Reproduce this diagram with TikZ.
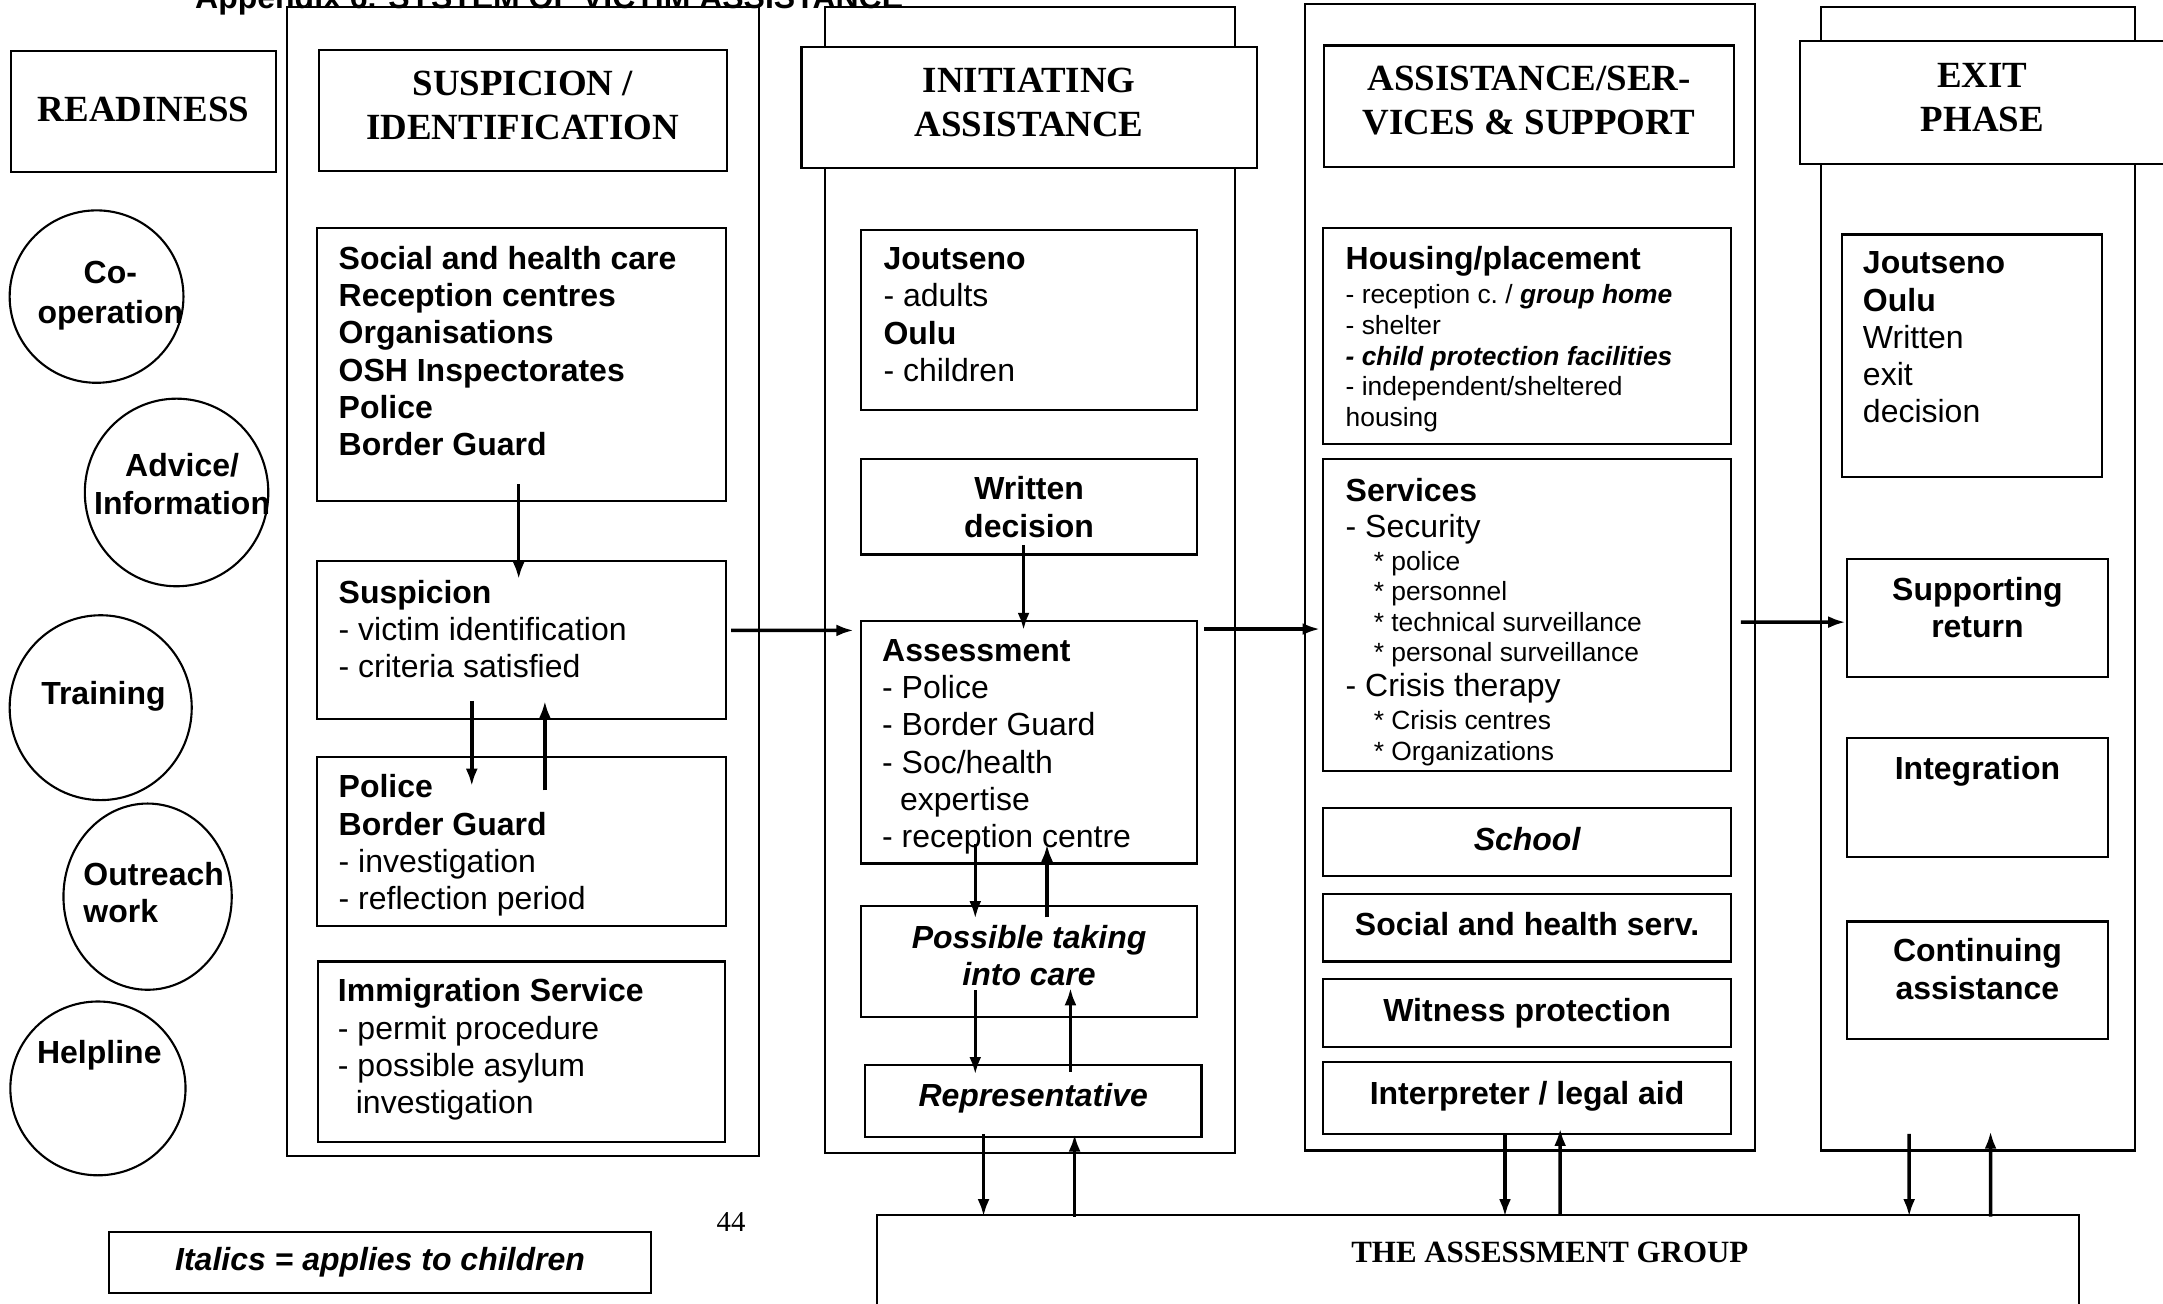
\documentclass[tikz,border=0pt]{standalone}
\usepackage{fontspec}
\setmainfont{Liberation Sans}
\newfontfamily\timesfont{Liberation Serif}
\usetikzlibrary{arrows.meta, positioning, shapes.geometric}
\newlength{\unitpx}
\setlength{\unitpx}{0.013795cm}
\newcommand{\bodyfont}{\fontsize{9.1}{10.6}\selectfont}
\newcommand{\smallfont}{\fontsize{7.5}{8.7}\selectfont}
\newcommand{\headfont}{\timesfont\bfseries\fontsize{10.5}{12.5}\selectfont}
\newcommand{\kid}[1]{\textbf{\textit{#1}}}

\begin{document}
\begin{tikzpicture}[
    x = 1\unitpx, y = -1\unitpx, % one unit = one pixel, y downwards
    > = {Latex[length=5pt, width=3.4pt]}, % arrow head style
    box/.style = {draw, line width=0.6pt, inner sep=0pt, outer sep=0pt},
    col/.style = {box, anchor=north west},
    head/.style = {box, fill=white, anchor=north west, font=\headfont, align=center, text depth=8\unitpx},
    circ/.style = {draw, ellipse, line width=0.6pt, inner sep=0pt, outer sep=0pt},
    txt/.style = {inner sep=0pt, font=\bodyfont, align=left},
    ctxt/.style = {inner sep=0pt, font=\bodyfont\bfseries, align=center},
    flow/.style = {->, line width=1pt},
    ]
    \useasboundingbox (0,0) rectangle (1568,945);

    \node[inner sep=0pt, anchor=base west, font=\bodyfont\bfseries] (title) at (141,6)
        {Appendix 6. SYSTEM OF VICTIM ASSISTANCE};

    % phase columns
    \node[col, minimum width=342\unitpx, minimum height=833\unitpx] (col1) at (208,5) {};
    \node[col, minimum width=297\unitpx, minimum height=831\unitpx] (col2) at (598,5) {};
    \node[col, minimum width=326\unitpx, minimum height=831\unitpx] (col3) at (946,3) {};
    \node[col, minimum width=228\unitpx, minimum height=829\unitpx] (col4) at (1320,5) {};

    \node[head, minimum width=192\unitpx, minimum height=88\unitpx, text depth=4\unitpx] (ready) at (8,37) {READINESS};
    \node[head, minimum width=296\unitpx, minimum height=88\unitpx] (head1) at (231,36) {SUSPICION /\\IDENTIFICATION};
    \node[head, minimum width=330\unitpx, minimum height=88\unitpx] (head2) at (581,34) {INITIATING\\ASSISTANCE};
    \node[head, minimum width=297\unitpx, minimum height=88\unitpx] (head3) at (960,33) {ASSISTANCE/SER-\\VICES \& SUPPORT};
    \node[head, minimum width=264\unitpx, minimum height=89\unitpx] (head4) at (1305,30) {EXIT\\PHASE};

    % readiness circles
    \node[circ, minimum width=126\unitpx, minimum height=125\unitpx] (coop) at (70,215) {};
    \node[circ, minimum width=133\unitpx, minimum height=136\unitpx] (advice) at (128,357) {};
    \node[circ, minimum width=132\unitpx, minimum height=134\unitpx] (train) at (73,513) {};
    \node[circ, minimum width=122\unitpx, minimum height=135\unitpx] (outreach) at (107,650) {};
    \node[circ, minimum width=127\unitpx, minimum height=126\unitpx] (help) at (71,789) {};
    \node[ctxt] (cooptxt) at (80,214) {Co-\\[0.8pt]operation};
    \node[ctxt] (advicetxt) at (132,351) {Advice/\\Information};
    \node[ctxt] (traintxt) at (75,505) {Training};
    \node[ctxt, align=left, anchor=west] (outreachtxt) at (60,647) {Outreach\\work};
    \node[ctxt] (helptxt) at (72,765) {Helpline};

    % suspicion / identification
    \node[col, minimum width=296\unitpx, minimum height=198\unitpx] (soc) at (230,165) {};
    \node[box, minimum width=296\unitpx, minimum height=114\unitpx, below=44\unitpx of soc] (susp) {};
    \node[box, minimum width=296\unitpx, minimum height=122\unitpx, below=28\unitpx of susp] (pol) {};
    \node[box, minimum width=295\unitpx, minimum height=131\unitpx, below=26\unitpx of pol] (imm) {};
    \node[txt, font=\bodyfont\bfseries, below right=13\unitpx and 15\unitpx of soc.north west] (soctxt)
        {Social and health care\\Reception centres\\Organisations\\OSH Inspectorates\\Police\\Border Guard};
    \node[txt, below right=13\unitpx and 15\unitpx of susp.north west] (susptxt)
        {\textbf{Suspicion}\\- victim identification\\- criteria satisfied};
    \node[txt, below right=12\unitpx and 15\unitpx of pol.north west] (poltxt)
        {\textbf{Police}\\\textbf{Border Guard}\\- investigation\\- reflection period};
    \node[txt, below right=12\unitpx and 14\unitpx of imm.north west] (immtxt)
        {\textbf{Immigration Service}\\- permit procedure\\- possible asylum\\\hspace*{0.56em}investigation};

    % initiating assistance
    \node[col, minimum width=244\unitpx, minimum height=130\unitpx] (jou) at (624,167) {};
    \node[box, minimum width=244\unitpx, minimum height=69\unitpx, below=36\unitpx of jou] (wd) {};
    \node[box, minimum width=244\unitpx, minimum height=176\unitpx, below=48\unitpx of wd] (ass) {};
    \node[box, minimum width=244\unitpx, minimum height=80\unitpx, below=31\unitpx of ass] (care) {};
    \node[box, minimum width=244\unitpx, minimum height=52\unitpx, below=35\unitpx of care, xshift=3\unitpx] (rep) {};
    \node[txt, below right=12\unitpx and 16\unitpx of jou.north west] (joutxt)
        {\textbf{Joutseno}\\- adults\\\textbf{Oulu}\\- children};
    \node[ctxt, below=12\unitpx of wd.north] (wdtxt) {Written\\decision};
    \node[txt, below right=13\unitpx and 15\unitpx of ass.north west] (asstxt)
        {\textbf{Assessment}\\- Police\\- Border Guard\\- Soc/health\\\hspace*{0.56em}expertise\\- reception centre};
    \node[ctxt, font=\bodyfont\bfseries\itshape, below=13\unitpx of care.north] (caretxt) {Possible taking\\into care};
    \node[ctxt, font=\bodyfont\bfseries\itshape, below=13\unitpx of rep.north] (reptxt) {Representative};

    % assistance, services and support
    \node[col, minimum width=296\unitpx, minimum height=157\unitpx] (hous) at (959,165) {};
    \node[box, minimum width=296\unitpx, minimum height=226\unitpx, below=11\unitpx of hous] (serv) {};
    \node[box, minimum width=296\unitpx, minimum height=49\unitpx, below=27\unitpx of serv] (school) {};
    \node[box, minimum width=296\unitpx, minimum height=49\unitpx, below=13\unitpx of school] (shs) {};
    \node[box, minimum width=296\unitpx, minimum height=49\unitpx, below=13\unitpx of shs] (wit) {};
    \node[box, minimum width=296\unitpx, minimum height=52\unitpx, below=11\unitpx of wit] (interp) {};
    \node[txt, font=\smallfont, below right=13\unitpx and 16\unitpx of hous.north west] (houstxt)
        {{\bodyfont\bfseries Housing/placement}\\[1.1pt]
         - reception c.\ / \kid{group home}\\
         - shelter\\
         \kid{- child protection facilities}\\
         - independent/sheltered\\
         housing};
    \node[txt, font=\smallfont, below right=13\unitpx and 16\unitpx of serv.north west] (servtxt)
        {{\bodyfont\bfseries Services}\\[1.5pt]
         {\bodyfont - Security}\\[0.7pt]
         \hspace*{8pt}* police\\
         \hspace*{8pt}* personnel\\
         \hspace*{8pt}* technical surveillance\\
         \hspace*{8pt}* personal surveillance\\[1.1pt]
         {\bodyfont - Crisis therapy}\\[0.7pt]
         \hspace*{8pt}* Crisis centres\\[0.3pt]
         \hspace*{8pt}* Organizations};
    \node[ctxt, font=\bodyfont\bfseries\itshape, below=13\unitpx of school.north] (schooltxt) {School};
    \node[ctxt, below=13\unitpx of shs.north] (shstxt) {Social and health serv.};
    \node[ctxt, below=13\unitpx of wit.north] (wittxt) {Witness protection};
    \node[ctxt, below=13\unitpx of interp.north] (interptxt) {Interpreter / legal aid};

    % exit phase
    \node[col, minimum width=189\unitpx, minimum height=176\unitpx] (exitdec) at (1335,170) {};
    \node[box, minimum width=189\unitpx, minimum height=86\unitpx, below=59\unitpx of exitdec, xshift=4\unitpx] (supp) {};
    \node[box, minimum width=189\unitpx, minimum height=86\unitpx, below=44\unitpx of supp] (integ) {};
    \node[box, minimum width=189\unitpx, minimum height=85\unitpx, below=47\unitpx of integ] (cont) {};
    \node[txt, below right=12\unitpx and 15\unitpx of exitdec.north west] (exitdectxt)
        {\textbf{Joutseno}\\\textbf{Oulu}\\Written\\exit\\decision};
    \node[ctxt, below=13\unitpx of supp.north] (supptxt) {Supporting\\return};
    \node[ctxt, below=13\unitpx of integ.north] (integtxt) {Integration};
    \node[ctxt, below=12\unitpx of cont.north] (conttxt) {Continuing\\assistance};

    % bottom
    \node[col, minimum width=871\unitpx, minimum height=80\unitpx] (group) at (636,881) {};
    \node[inner sep=0pt, font=\timesfont\bfseries\fontsize{8.8}{10}\selectfont,
          below=19\unitpx of group.north, xshift=52\unitpx] (grouptxt) {THE ASSESSMENT GROUP};
    \node[col, minimum width=393\unitpx, minimum height=44\unitpx, font=\bodyfont\bfseries\itshape] (legend) at (79,893)
        {Italics = applies to children};
    \node[inner sep=0pt, font=\timesfont\fontsize{8.2}{10}\selectfont] (pagenum) at (530,886) {44};

    % connectors
    \draw[flow] ([shift={(-2,-12)}]soc.south) -- ([shift={(-2,13)}]susp.north);
    \draw[flow] ([shift={(-36,-13)}]susp.south) -- ([shift={(-36,21)}]pol.north);
    \draw[flow] ([shift={(17,24)}]pol.north) -- ([shift={(17,-13)}]susp.south);
    \draw[flow] ([shift={(4,-7)}]susp.east) -- ([shift={(-5,-81)}]ass.west);
    \draw[flow] ([shift={(-4,-7)}]wd.south) -- ([shift={(-4,7)}]ass.north);
    \draw[flow] ([shift={(-39,-14)}]ass.south) -- ([shift={(-39,9)}]care.north);
    \draw[flow] ([shift={(13,8)}]care.north) -- ([shift={(13,-14)}]ass.south);
    \draw[flow] ([shift={(-39,-19)}]care.south) -- ([shift={(-42,7)}]rep.north);
    \draw[flow] ([shift={(27,5)}]rep.north) -- ([shift={(30,-21)}]care.south);
    \draw[flow] ([shift={(5,-82)}]ass.east) -- ([shift={(-2,10)}]serv.west);
    \draw[flow] ([shift={(7,5)}]serv.east) -- ([shift={(-1,3)}]supp.west);

    \draw[flow] ([shift={(-36,-2)}]rep.south) -- ([shift={(-358.5,1)}]group.north);
    \draw[flow] ([shift={(-292.5,1)}]group.north) -- ([shift={(30,-2)}]rep.south);
    \draw[flow] ([shift={(-16,0)}]interp.south) -- ([shift={(19.5,1)}]group.north);
    \draw[flow] ([shift={(59.5,-1)}]group.north) -- ([shift={(24,-4)}]interp.south);
    \draw[flow] ([shift={(-50,-12)}]col4.south) -- ([shift={(312.5,1)}]group.north);
    \draw[flow] ([shift={(371.5,1)}]group.north) -- ([shift={(9,-14)}]col4.south);
\end{tikzpicture}
\end{document}
